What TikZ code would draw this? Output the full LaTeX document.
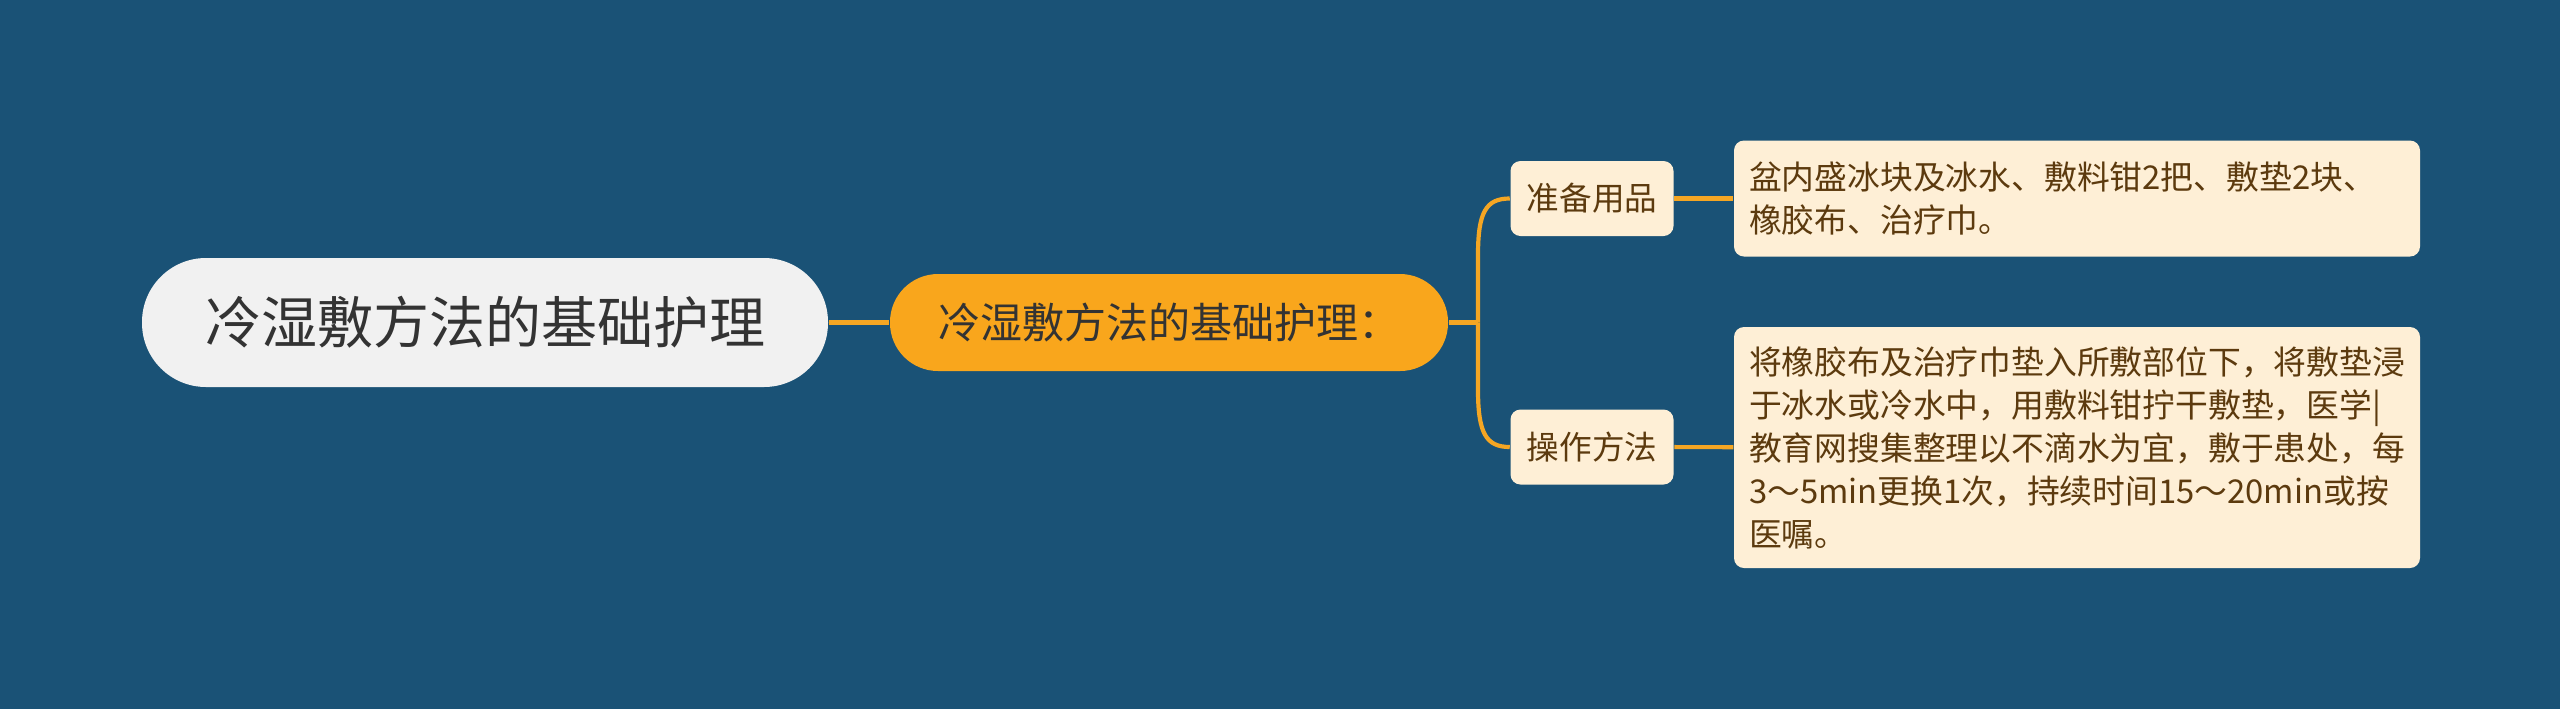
\documentclass[tikz,border=0pt]{standalone}
\usepackage{fontspec}
\newfontfamily\cjk{Noto Sans CJK SC}
\usepackage{tikz}
\definecolor{bgblue}{RGB}{26,82,118}
\definecolor{rootgray}{RGB}{241,241,241}
\definecolor{mainorange}{RGB}{249,166,28}
\definecolor{linkorange}{RGB}{245,166,35}
\definecolor{cream}{RGB}{254,239,214}
\definecolor{darktext}{RGB}{51,51,51}
\definecolor{browntext}{RGB}{92,58,14}
\tikzset{every picture/.style={line width=0.75pt}}

\begin{document}
\begin{tikzpicture}[x=0.5pt,y=0.5pt,yscale=-1,xscale=1,
	rootbox/.style={fill=rootgray,text=darktext,rounded corners=32pt,minimum width=343pt,minimum height=64.5pt,inner sep=0pt,font=\cjk\fontsize{28pt}{34pt}\selectfont},
	mainbox/.style={fill=mainorange,text=darktext,rounded corners=24pt,minimum width=279pt,minimum height=48.5pt,inner sep=0pt,font=\cjk\fontsize{21pt}{25pt}\selectfont},
	subbox/.style={fill=cream,text=browntext,rounded corners=5pt,minimum width=81.5pt,minimum height=37.5pt,inner sep=0pt,font=\cjk\fontsize{16.3pt}{20pt}\selectfont},
	leafbox/.style={fill=cream,text=browntext,rounded corners=5pt,text width=328pt,inner sep=7.5pt,align=left,font=\cjk\fontsize{16.4pt}{21.5pt}\selectfont},
	link/.style={draw=linkorange,line width=2.1pt}]
	%set diagram area: 2560 x 709
	\fill [bgblue] (0,0) rectangle (2560,709);
	
	%Shape: Rounded Rect [id:root]
	\node [rootbox] (root) at (485,322.5) {冷湿敷方法的基础护理};
	%Shape: Rounded Rect [id:main]
	\node [mainbox] (main) at (1169,322.5) {冷湿敷方法的基础护理：\hspace{6pt}};
	%Shape: Rounded Rect [id:prep]
	\node [subbox] (prep) at (1592,198.5) {准备用品};
	%Shape: Rounded Rect [id:oper]
	\node [subbox] (oper) at (1592,447) {操作方法};
	%Shape: Rounded Rect [id:prepleaf]
	\node [leafbox,minimum height=58pt] (prepleaf) at (2077,198.5) {盆内盛冰块及冰水、敷料钳2把、敷垫2块、\\橡胶布、治疗巾。};
	%Shape: Rounded Rect [id:operleaf]
	\node [leafbox,minimum height=120.5pt] (operleaf) at (2077,447.5) {将橡胶布及治疗巾垫入所敷部位下，将敷垫浸\\于冰水或冷水中，用敷料钳拧干敷垫，医学|\\教育网搜集整理以不滴水为宜，敷于患处，每\\3～5min更换1次，持续时间15～20min或按\\医嘱。};
	
	\coordinate (fork) at (1478,322.5);
	%Straight Lines [id:root-main]
	\draw [link] (root) -- (main);
	%Straight Lines [id:main-fork]
	\draw [link] (main) -- (fork);
	%Curve Lines [id:fork-prep]
	\draw [link] (fork) -- (1478,255) .. controls (1478,212) and (1486,198.5) .. (prep.west);
	%Curve Lines [id:fork-oper]
	\draw [link] (fork) -- (1478,390) .. controls (1478,433) and (1486,447) .. (oper.west);
	%Straight Lines [id:prep-leaf]
	\draw [link] (prep) -- (prepleaf);
	%Straight Lines [id:oper-leaf]
	\draw [link] (oper) -- (operleaf);
\end{tikzpicture}
\end{document}
